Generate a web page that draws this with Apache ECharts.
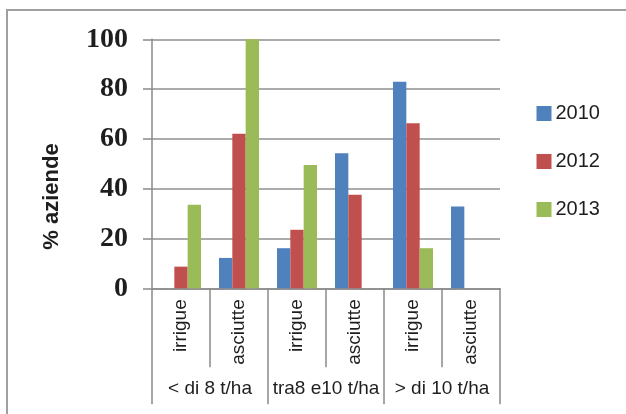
<!DOCTYPE html>
<html>
<head>
<meta charset="utf-8">
<script src="https://cdn.jsdelivr.net/npm/echarts@6/dist/echarts.min.js"></script>
<style>
  html, body { margin: 0; padding: 0; background: #fff; }
  #chart { width: 626px; height: 414px; }
</style>
</head>
<body>
<div id="chart"></div>
<script>
// Sub-categories (farm type) and their yield class groups
const subCategories = ['irrigue', 'asciutte', 'irrigue', 'asciutte', 'irrigue', 'asciutte'];
const groups = ['< di 8 t/ha', 'tra8 e10 t/ha', '> di 10 t/ha'];

// Share of farms (%) per year
const years = ['2010', '2012', '2013'];
const values2010 = [0, 12.2, 16.1, 54.2, 83, 32.9];
const values2012 = [8.7, 62.1, 23.5, 37.6, 66.3, 0];
const values2013 = [33.6, 100, 49.5, 0, 16.1, 0];

const yTicks = { min: 0, max: 100, interval: 20 };
const yAxisTitle = '% aziende';

const colors = ['#4F81BD', '#C0504D', '#9BBB59'];
const axisGray = '#8a8a8a';
const textColor = '#1e1e1e';

const chart = echarts.init(document.getElementById('chart'), null, { renderer: 'canvas' });

const seriesData = [values2010, values2012, values2013];

chart.setOption({
  animation: false,
  backgroundColor: '#ffffff',
  color: colors,
  grid: { left: 152, right: 126, top: 39.3, bottom: 125.7, containLabel: false },
  legend: {
    orient: 'vertical',
    left: 531.5,
    top: 98.5,
    itemWidth: 15,
    itemHeight: 15,
    itemGap: 28,
    icon: 'rect',
    data: years,
    textStyle: { fontFamily: 'Liberation Sans', fontSize: 20, color: textColor, padding: [0, 0, 0, -1] }
  },
  xAxis: [
    {
      type: 'category',
      position: 'bottom',
      data: subCategories,
      axisLine: { show: true, lineStyle: { color: axisGray, width: 1.5 } },
      axisTick: { show: true, interval: 0, length: 79, lineStyle: { color: axisGray, width: 1.5 } },
      axisLabel: {
        interval: 0,
        rotate: 90,
        margin: 11,
        fontFamily: 'Liberation Sans',
        fontSize: 19,
        color: textColor
      }
    },
    {
      type: 'category',
      position: 'bottom',
      data: groups,
      axisLine: { show: false },
      axisTick: { show: true, interval: 0, length: 116, lineStyle: { color: axisGray, width: 1.5 } },
      axisLabel: {
        interval: 0,
        margin: 91,
        fontFamily: 'Liberation Sans',
        fontSize: 19,
        color: textColor
      }
    }
  ],
  yAxis: {
    type: 'value',
    min: yTicks.min,
    max: yTicks.max,
    interval: yTicks.interval,
    axisLine: { show: true, lineStyle: { color: axisGray, width: 1.5 } },
    axisTick: { show: true, length: 9, lineStyle: { color: axisGray, width: 1.5 } },
    splitLine: { show: true, lineStyle: { color: '#8f8f8f', width: 1.5 } },
    axisLabel: {
      margin: 24,
      fontFamily: 'Liberation Serif',
      fontWeight: 'bold',
      fontSize: 28,
      color: textColor
    }
  },
  series: years.map((y, i) => ({
    name: y,
    type: 'bar',
    xAxisIndex: 0,
    data: seriesData[i],
    barGap: '0%',
    barCategoryGap: '31%',
    itemStyle: { color: colors[i] }
  })),
  graphic: [
    {
      type: 'rect',
      silent: true,
      shape: { x: 7, y: 10, width: 700, height: 500 },
      style: { fill: 'none', stroke: '#a0a0a0', lineWidth: 2 }
    },
    {
      type: 'text',
      silent: true,
      x: 51.7,
      y: 196.5,
      rotation: Math.PI / 2,
      style: {
        text: yAxisTitle,
        font: 'bold 22px "Liberation Sans"',
        fill: textColor,
        align: 'center',
        verticalAlign: 'middle'
      }
    }
  ]
});
</script>
</body>
</html>
